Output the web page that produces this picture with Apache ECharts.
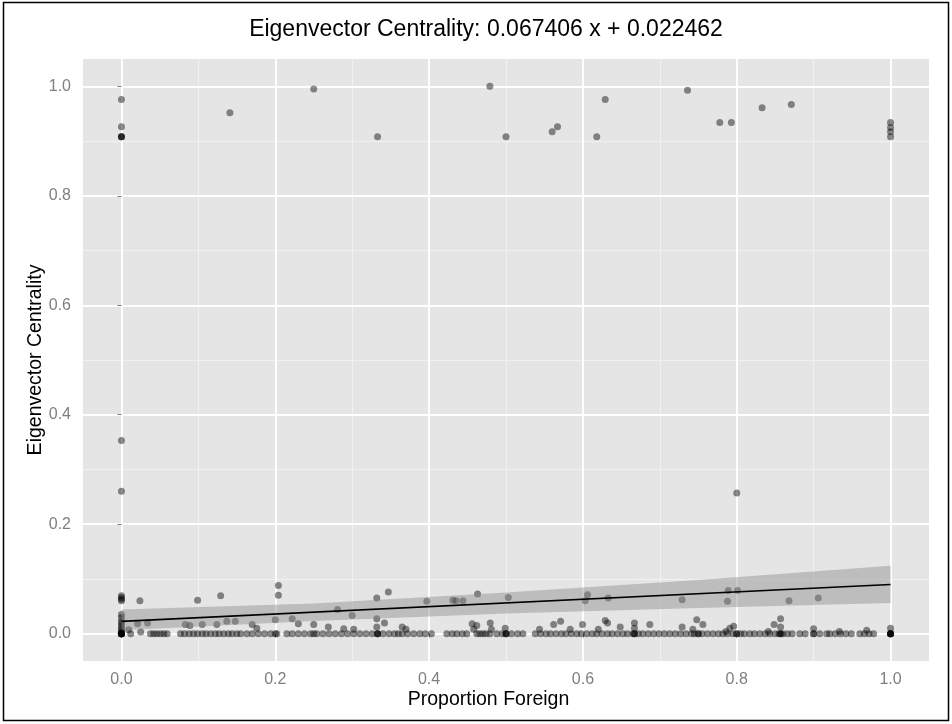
<!DOCTYPE html>
<html>
<head>
<meta charset="utf-8">
<script src="https://cdn.jsdelivr.net/npm/echarts@6/dist/echarts.min.js"></script>
<style>
html,body{margin:0;padding:0;background:#fff;}
#chart{width:952px;height:724px;}
</style>
</head>
<body>
<div id="chart"></div>
<script>
// ---- data ----
const titleText = 'Eigenvector Centrality: 0.067406 x + 0.022462';
const xTicks = [0, 0.2, 0.4, 0.6, 0.8, 1.0];
const yTicks = [0, 0.2, 0.4, 0.6, 0.8, 1.0];
const xMinor = [0.1, 0.3, 0.5, 0.7, 0.9];
const yMinor = [0.1, 0.3, 0.5, 0.7, 0.9];

// points near the top (y ~ 0.9 - 1.0)
const topX = [0, 0, 0, 0, 0, 0.141, 0.25, 0.333, 0.479, 0.5, 0.56, 0.567, 0.618, 0.629, 0.736, 0.778, 0.793, 0.833, 0.871, 1, 1, 1, 1];
const topY = [0.976, 0.926, 0.908, 0.908, 0.908, 0.952, 0.995, 0.908, 1.0, 0.908, 0.917, 0.926, 0.908, 0.976, 0.993, 0.934, 0.934, 0.961, 0.967, 0.934, 0.925, 0.917, 0.908];

// middle points
const midX = [0, 0, 0.8];
const midY = [0.353, 0.260, 0.257];

// low points (y ~ 0.03 - 0.09)
const lowX = [0, 0, 0, 0, 0.024, 0.099, 0.129, 0.204, 0.204, 0.281, 0.30, 0.332, 0.347, 0.397, 0.431, 0.435, 0.444, 0.463, 0.503, 0.606, 0.603, 0.633, 0.729, 0.789, 0.788, 0.801, 0.868, 0.906];
const lowY = [0.069, 0.066, 0.063, 0.060, 0.060, 0.061, 0.069, 0.088, 0.070, 0.044, 0.033, 0.065, 0.076, 0.059, 0.061, 0.060, 0.060, 0.0725, 0.066, 0.071, 0.060, 0.065, 0.062, 0.079, 0.059, 0.079, 0.060, 0.065];

// near-zero points (y ~ 0.002 - 0.035)
const nearX = [0, 0, 0, 0, 0, 0, 0, 0, 0.0095, 0.021, 0.025, 0.034, 0.083, 0.089, 0.105, 0.124, 0.137, 0.148, 0.17, 0.176, 0.2, 0.222, 0.23, 0.25, 0.269, 0.289, 0.302, 0.332, 0.332, 0.342, 0.365, 0.37, 0.456, 0.462, 0.4795, 0.458, 0.481, 0.499, 0.5436, 0.562, 0.571, 0.5835, 0.5995, 0.62, 0.629, 0.632, 0.6485, 0.667, 0.667, 0.687, 0.729, 0.743, 0.748, 0.756, 0.786, 0.791, 0.796, 0.841, 0.8486, 0.857, 0.857, 0.9, 0.9335, 0.969, 1];
const nearY = [0.035, 0.029, 0.022, 0.018, 0.013, 0.009, 0.005, 0.002, 0.007, 0.018, 0.003, 0.0195, 0.0165, 0.015, 0.0165, 0.0165, 0.0225, 0.0225, 0.0165, 0.010, 0.0256, 0.027, 0.018, 0.0165, 0.012, 0.009, 0.008, 0.027, 0.012, 0.0195, 0.012, 0.008, 0.018, 0.015, 0.0195, 0.008, 0.008, 0.010, 0.008, 0.0165, 0.0225, 0.008, 0.0165, 0.008, 0.024, 0.0195, 0.012, 0.0195, 0.010, 0.0165, 0.012, 0.008, 0.0256, 0.0165, 0.004, 0.010, 0.0135, 0.004, 0.0165, 0.027, 0.012, 0.009, 0.004, 0.006, 0.010];

// points sitting on y = 0
const zeroX = [0, 0, 0, 0, 0, 0, 0, 0,
  0.012, 0.0377, 0.042, 0.046, 0.0507, 0.055, 0.0594,
  0.0767, 0.082, 0.088, 0.0936, 0.099, 0.105, 0.110, 0.116, 0.122, 0.127, 0.133, 0.139, 0.144, 0.150, 0.155,
  0.163, 0.170, 0.178, 0.186, 0.194, 0.2, 0.202,
  0.215, 0.222, 0.230, 0.238, 0.246, 0.25, 0.254, 0.262, 0.270, 0.278, 0.286, 0.294, 0.302, 0.310, 0.318, 0.326, 0.333, 0.333, 0.333,
  0.340, 0.348, 0.355, 0.36, 0.365, 0.372, 0.38, 0.388, 0.395, 0.403,
  0.423, 0.43, 0.436, 0.443, 0.449,
  0.462, 0.466, 0.47, 0.474, 0.479,
  0.488, 0.495, 0.5, 0.5, 0.5, 0.507, 0.515, 0.522,
  0.538, 0.545, 0.552, 0.558, 0.565, 0.572, 0.578, 0.585, 0.592, 0.598, 0.605, 0.612, 0.618, 0.625, 0.632, 0.638, 0.645, 0.652, 0.658, 0.665, 0.667, 0.667, 0.672,
  0.678, 0.685, 0.692, 0.699, 0.706, 0.713, 0.72, 0.727, 0.734, 0.741, 0.745, 0.75, 0.75, 0.755, 0.762, 0.769, 0.776,
  0.782, 0.788, 0.795, 0.8, 0.8, 0.805, 0.81,
  0.817, 0.823, 0.83, 0.837, 0.843, 0.85, 0.855, 0.857, 0.857, 0.86, 0.866, 0.872,
  0.882, 0.889, 0.9, 0.9, 0.908, 0.917,
  0.921, 0.928, 0.935, 0.942, 0.949,
  0.96, 0.966, 0.972, 0.978,
  1, 1, 1, 1, 1];

// linear fit and its confidence band
const fitX = [0, 1];
const fitY = [0.022462, 0.089868];
const ribbonX = [0, 0.25, 0.5, 0.75, 1];
const ribbonLower = [0.006, 0.023, 0.037, 0.047, 0.056];
const ribbonUpper = [0.044, 0.055, 0.075, 0.098, 0.124];

// ---- build chart ----
const pts = [];
function addPts(xs, ys) { xs.forEach((x, i) => pts.push([x, ys[i]])); }
addPts(topX, topY);
addPts(midX, midY);
addPts(lowX, lowY);
addPts(nearX, nearY);
zeroX.forEach(x => pts.push([x, 0]));

const gridLines = []
  .concat(xMinor.map(v => ({ xAxis: v, lineStyle: { color: '#F2F2F2', width: 0.9, type: 'solid' } })))
  .concat(yMinor.map(v => ({ yAxis: v, lineStyle: { color: '#F2F2F2', width: 0.9, type: 'solid' } })))
  .concat(xTicks.map(v => ({ xAxis: v, lineStyle: { color: '#FFFFFF', width: 1.9, type: 'solid' } })))
  .concat(yTicks.map(v => ({ yAxis: v, lineStyle: { color: '#FFFFFF', width: 1.9, type: 'solid' } })));

const fontFamily = '"Liberation Sans", Arial, sans-serif';
const chart = echarts.init(document.getElementById('chart'), null, { renderer: 'canvas' });
chart.setOption({
  animation: false,
  backgroundColor: '#FFFFFF',
  title: {
    text: titleText,
    left: 481, top: 13,
    textAlign: 'center',
    textStyle: { fontFamily, fontSize: 23, fontWeight: 'normal', color: '#000' }
  },
  graphic: [{
    type: 'rect', silent: true, z: 100,
    shape: { x: 3.5, y: 2.5, width: 945, height: 718 },
    style: { fill: 'none', stroke: '#000', lineWidth: 1.5 }
  }],
  grid: { left: 83, right: 23, top: 59, bottom: 63, show: true, backgroundColor: '#E5E5E5', borderWidth: 0 },
  xAxis: {
    type: 'value', min: -0.05, max: 1.05,
    name: 'Proportion Foreign', nameLocation: 'middle', nameGap: 29,
    nameMoveOverlap: false,
    nameTextStyle: { fontFamily, fontSize: 19.5, color: '#000', padding: [0, 35, 0, 0] },
    axisLine: { show: false },
    splitLine: { show: false },
    axisTick: { show: true, length: 4, lineStyle: { color: '#7F7F7F', width: 1 }, customValues: xTicks },
    axisLabel: { fontFamily, fontSize: 16, color: '#7F7F7F', margin: 11, customValues: xTicks, formatter: v => v.toFixed(1) }
  },
  yAxis: {
    type: 'value', min: -0.05, max: 1.05,
    name: 'Eigenvector Centrality', nameLocation: 'middle', nameGap: 37,
    nameMoveOverlap: false,
    nameTextStyle: { fontFamily, fontSize: 19.5, color: '#000' },
    axisLine: { show: false },
    splitLine: { show: false },
    axisTick: { show: true, length: 4, lineStyle: { color: '#7F7F7F', width: 1 }, customValues: yTicks },
    axisLabel: { fontFamily, fontSize: 16, color: '#7F7F7F', margin: 12, customValues: yTicks, formatter: v => v.toFixed(1) }
  },
  series: [
    {
      type: 'line', data: [], silent: true, z: 0,
      markLine: { silent: true, z: 0, symbol: ['none', 'none'], label: { show: false }, animation: false, data: gridLines }
    },
    {
      type: 'scatter', data: pts, symbol: 'circle', symbolSize: 7, z: 3,
      itemStyle: { color: 'rgba(0,0,0,0.56)', borderWidth: 0 }
    },
    {
      type: 'custom', z: 4, silent: true,
      data: ribbonX.map((x, i) => [x, ribbonLower[i], ribbonUpper[i]]),
      encode: { x: 0, y: [1, 2] },
      renderItem: function (params, api) {
        if (params.dataIndex !== 0) return null;
        const upper = ribbonX.map((x, i) => api.coord([x, ribbonUpper[i]]));
        const lower = ribbonX.map((x, i) => api.coord([x, ribbonLower[i]])).reverse();
        return { type: 'polygon', shape: { points: upper.concat(lower) }, style: { fill: 'rgba(140,140,140,0.45)' } };
      }
    },
    {
      type: 'line', z: 5, silent: true, symbol: 'none',
      data: fitX.map((x, i) => [x, fitY[i]]),
      lineStyle: { color: '#000', width: 1.6 }
    }
  ]
});
</script>
</body>
</html>
